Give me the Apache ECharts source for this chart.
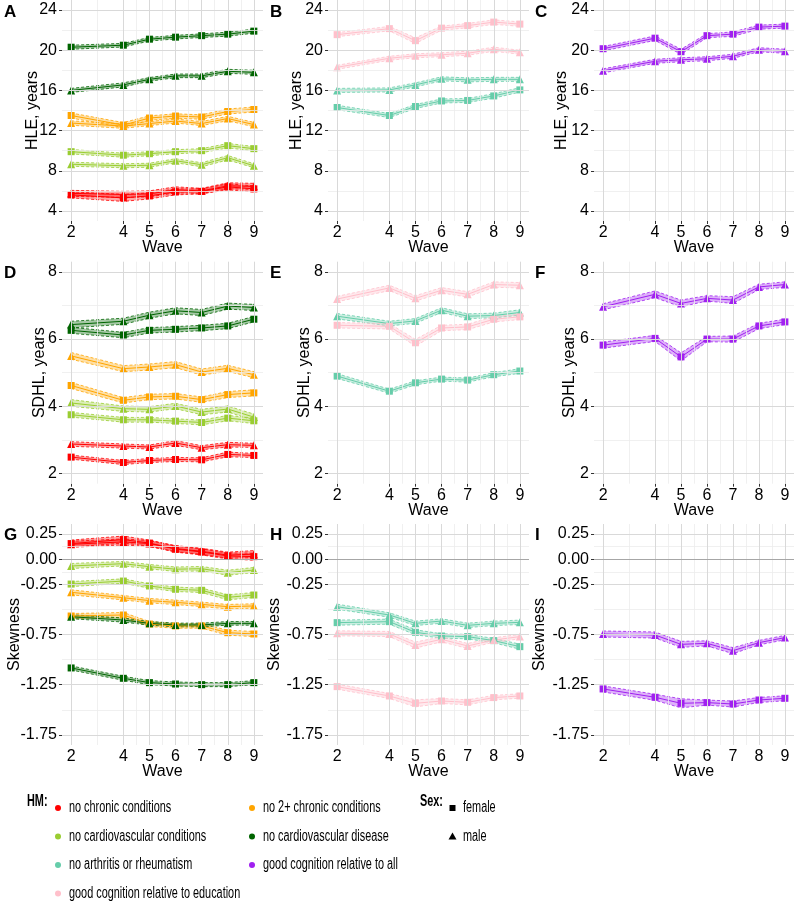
<!DOCTYPE html>
<html>
<head>
<meta charset="utf-8">
<script src="https://cdn.jsdelivr.net/npm/echarts@6/dist/echarts.min.js"></script>
<style>
  html, body { margin: 0; padding: 0; background: #fff; }
  #chart { width: 794px; height: 902px; }
</style>
</head>
<body>
<div id="chart"></div>
<script>
'use strict';

var waves = [2, 4, 5, 6, 7, 8, 9];

// ---- HLE, years (f = female / squares, m = male / triangles), ci = half width of band
var hle_nc_f = [5.6, 5.3, 5.5, 5.9, 5.95, 6.4, 6.2];
var hle_nc_m = [5.75, 5.65, 5.7, 6.1, 6.0, 6.5, 6.45];
var hle_n2_f = [13.5, 12.55, 13.25, 13.45, 13.35, 13.9, 14.1];
var hle_n2_m = [12.75, 12.45, 12.7, 12.95, 12.7, 13.2, 12.6];
var hle_ncv_f = [9.9, 9.55, 9.7, 9.9, 10.0, 10.5, 10.2];
var hle_ncv_m = [8.65, 8.5, 8.55, 9.0, 8.6, 9.3, 8.5];
var hle_ncd_f = [20.3, 20.5, 21.1, 21.3, 21.45, 21.6, 21.9];
var hle_ncd_m = [16.0, 16.55, 17.1, 17.45, 17.45, 17.9, 17.8];
var hle_nar_f = [14.3, 13.5, 14.4, 14.95, 15.0, 15.45, 16.05];
var hle_nar_m = [16.0, 16.05, 16.55, 17.15, 17.05, 17.1, 17.1];
var hle_gce_f = [21.55, 22.15, 20.95, 22.2, 22.45, 22.8, 22.6];
var hle_gce_m = [18.3, 19.2, 19.45, 19.55, 19.7, 20.1, 19.8];
var hle_gca_f = [20.15, 21.2, 19.85, 21.45, 21.6, 22.3, 22.4];
var hle_gca_m = [17.95, 18.9, 19.05, 19.15, 19.4, 20.05, 19.9];

var hle_nc_f_ci = [0.3, 0.35, 0.3, 0.3, 0.25, 0.3, 0.3];
var hle_nc_m_ci = [0.3, 0.3, 0.3, 0.3, 0.25, 0.3, 0.3];
var hle_n2_f_ci = [0.25, 0.25, 0.22, 0.22, 0.22, 0.25, 0.25];
var hle_n2_m_ci = [0.22, 0.22, 0.2, 0.2, 0.2, 0.22, 0.22];
var hle_ncv_f_ci = [0.22, 0.2, 0.2, 0.2, 0.2, 0.22, 0.22];
var hle_ncv_m_ci = [0.2, 0.2, 0.2, 0.2, 0.2, 0.22, 0.2];
var hle_ncd_f_ci = [0.2, 0.18, 0.18, 0.18, 0.18, 0.2, 0.2];
var hle_ncd_m_ci = [0.2, 0.2, 0.18, 0.18, 0.18, 0.2, 0.2];
var hle_nar_f_ci = [0.22, 0.2, 0.2, 0.2, 0.2, 0.22, 0.22];
var hle_nar_m_ci = [0.2, 0.2, 0.2, 0.2, 0.2, 0.2, 0.2];
var hle_gce_f_ci = [0.2, 0.22, 0.28, 0.2, 0.22, 0.22, 0.22];
var hle_gce_m_ci = [0.2, 0.2, 0.2, 0.2, 0.2, 0.2, 0.2];
var hle_gca_f_ci = [0.22, 0.22, 0.25, 0.2, 0.22, 0.2, 0.2];
var hle_gca_m_ci = [0.2, 0.2, 0.2, 0.2, 0.2, 0.2, 0.2];

// ---- SDHL, years
var sdhl_nc_f = [2.49, 2.33, 2.39, 2.42, 2.41, 2.57, 2.54];
var sdhl_nc_m = [2.88, 2.82, 2.79, 2.91, 2.77, 2.86, 2.84];
var sdhl_n2_f = [4.62, 4.18, 4.28, 4.3, 4.2, 4.35, 4.4];
var sdhl_n2_m = [5.5, 5.12, 5.17, 5.24, 5.02, 5.13, 4.94];
var sdhl_ncv_f = [3.75, 3.6, 3.6, 3.56, 3.52, 3.65, 3.57];
var sdhl_ncv_m = [4.1, 3.93, 3.91, 4.01, 3.83, 3.92, 3.68];
var sdhl_ncd_f = [6.26, 6.12, 6.26, 6.29, 6.33, 6.39, 6.59];
var sdhl_ncd_m = [6.43, 6.53, 6.71, 6.84, 6.79, 6.98, 6.94];
var sdhl_nar_f = [4.9, 4.45, 4.7, 4.81, 4.78, 4.94, 5.05];
var sdhl_nar_m = [6.68, 6.46, 6.54, 6.86, 6.68, 6.7, 6.79];
var sdhl_gce_f = [6.41, 6.38, 5.89, 6.33, 6.36, 6.59, 6.66];
var sdhl_gce_m = [7.19, 7.52, 7.21, 7.45, 7.33, 7.62, 7.6];
var sdhl_gca_f = [5.82, 6.02, 5.47, 6.0, 6.0, 6.39, 6.51];
var sdhl_gca_m = [6.96, 7.33, 7.06, 7.21, 7.16, 7.55, 7.62];

var sdhl_nc_f_ci = [0.06, 0.06, 0.06, 0.06, 0.06, 0.07, 0.06];
var sdhl_nc_m_ci = [0.07, 0.06, 0.06, 0.07, 0.06, 0.07, 0.06];
var sdhl_n2_f_ci = [0.09, 0.08, 0.08, 0.08, 0.08, 0.09, 0.09];
var sdhl_n2_m_ci = [0.1, 0.09, 0.09, 0.09, 0.09, 0.09, 0.09];
var sdhl_ncv_f_ci = [0.07, 0.07, 0.07, 0.07, 0.07, 0.08, 0.08];
var sdhl_ncv_m_ci = [0.1, 0.08, 0.08, 0.08, 0.08, 0.09, 0.09];
var sdhl_ncd_f_ci = [0.09, 0.08, 0.08, 0.08, 0.08, 0.08, 0.08];
var sdhl_ncd_m_ci = [0.1, 0.09, 0.09, 0.09, 0.09, 0.09, 0.09];
var sdhl_nar_f_ci = [0.07, 0.06, 0.06, 0.06, 0.06, 0.06, 0.07];
var sdhl_nar_m_ci = [0.08, 0.07, 0.07, 0.07, 0.07, 0.07, 0.08];
var sdhl_gce_f_ci = [0.08, 0.08, 0.1, 0.08, 0.08, 0.08, 0.08];
var sdhl_gce_m_ci = [0.08, 0.08, 0.08, 0.08, 0.08, 0.08, 0.08];
var sdhl_gca_f_ci = [0.09, 0.09, 0.12, 0.08, 0.09, 0.08, 0.08];
var sdhl_gca_m_ci = [0.09, 0.1, 0.1, 0.08, 0.1, 0.08, 0.08];

// ---- Skewness
var sk_nc_f = [0.155, 0.195, 0.16, 0.1, 0.072, 0.032, 0.025];
var sk_nc_m = [0.148, 0.172, 0.155, 0.105, 0.078, 0.04, 0.05];
var sk_n2_f = [-0.566, -0.556, -0.646, -0.665, -0.665, -0.732, -0.745];
var sk_n2_m = [-0.33, -0.384, -0.413, -0.43, -0.45, -0.473, -0.466];
var sk_ncv_f = [-0.248, -0.218, -0.267, -0.3, -0.31, -0.38, -0.357];
var sk_ncv_m = [-0.068, -0.045, -0.075, -0.1, -0.095, -0.135, -0.108];
var sk_ncd_f = [-1.083, -1.186, -1.229, -1.243, -1.249, -1.249, -1.229];
var sk_ncd_m = [-0.573, -0.606, -0.639, -0.655, -0.655, -0.639, -0.639];
var sk_nar_f = [-0.632, -0.622, -0.728, -0.765, -0.771, -0.811, -0.871];
var sk_nar_m = [-0.473, -0.556, -0.639, -0.616, -0.659, -0.639, -0.629];
var sk_gce_f = [-1.269, -1.362, -1.435, -1.412, -1.425, -1.378, -1.362];
var sk_gce_m = [-0.738, -0.745, -0.855, -0.798, -0.864, -0.805, -0.771];
var sk_gca_f = [-1.292, -1.375, -1.435, -1.428, -1.442, -1.402, -1.385];
var sk_gca_m = [-0.745, -0.755, -0.848, -0.838, -0.911, -0.831, -0.781];

var sk_nc_f_ci = [0.035, 0.035, 0.03, 0.03, 0.03, 0.03, 0.035];
var sk_nc_m_ci = [0.03, 0.03, 0.03, 0.03, 0.03, 0.03, 0.035];
var sk_n2_f_ci = [0.025, 0.025, 0.025, 0.022, 0.022, 0.025, 0.025];
var sk_n2_m_ci = [0.025, 0.022, 0.022, 0.022, 0.022, 0.022, 0.022];
var sk_ncv_f_ci = [0.025, 0.022, 0.022, 0.022, 0.022, 0.025, 0.025];
var sk_ncv_m_ci = [0.025, 0.022, 0.022, 0.022, 0.022, 0.025, 0.025];
var sk_ncd_f_ci = [0.02, 0.02, 0.02, 0.02, 0.02, 0.02, 0.02];
var sk_ncd_m_ci = [0.02, 0.02, 0.018, 0.018, 0.018, 0.018, 0.018];
var sk_nar_f_ci = [0.025, 0.025, 0.025, 0.022, 0.022, 0.022, 0.025];
var sk_nar_m_ci = [0.025, 0.022, 0.022, 0.022, 0.022, 0.022, 0.022];
var sk_gce_f_ci = [0.025, 0.025, 0.035, 0.025, 0.025, 0.022, 0.022];
var sk_gce_m_ci = [0.025, 0.025, 0.03, 0.025, 0.025, 0.022, 0.022];
var sk_gca_f_ci = [0.03, 0.03, 0.045, 0.025, 0.03, 0.025, 0.025];
var sk_gca_m_ci = [0.03, 0.03, 0.03, 0.025, 0.03, 0.022, 0.022];

// ---- groups / legend
var hmKeys = ['nc', 'n2', 'ncv', 'ncd', 'nar', 'gca', 'gce'];
var hmNames = ['no chronic conditions', 'no 2+ chronic conditions', 'no cardiovascular conditions',
  'no cardiovascular disease', 'no arthritis or rheumatism', 'good cognition relative to all',
  'good cognition relative to education'];
var hmColors = ['#ff0000', '#ffa500', '#9acd32', '#006400', '#66cdaa', '#a020f0', '#ffc0cb'];

// ---- axes
var xMajor = [2, 4, 5, 6, 7, 8, 9];
var xMinor = [3, 4.5, 5.5, 6.5, 7.5, 8.5];
var hleMajor = [4, 8, 12, 16, 20, 24];
var hleMinor = [6, 10, 14, 18, 22];
var sdhlMajor = [2, 4, 6, 8];
var sdhlMinor = [3, 5, 7];
var skMajor = [-1.75, -1.25, -0.75, -0.25, 0, 0.25];
var skMinor = [-1.5, -1, -0.5, -0.125, 0.125];

var measures = {
  hle: { name: 'HLE, years', min: 3, max: 25, major: hleMajor, minor: hleMinor, digits: 0,
    data: {
      nc: [hle_nc_f, hle_nc_m, hle_nc_f_ci, hle_nc_m_ci], n2: [hle_n2_f, hle_n2_m, hle_n2_f_ci, hle_n2_m_ci],
      ncv: [hle_ncv_f, hle_ncv_m, hle_ncv_f_ci, hle_ncv_m_ci], ncd: [hle_ncd_f, hle_ncd_m, hle_ncd_f_ci, hle_ncd_m_ci],
      nar: [hle_nar_f, hle_nar_m, hle_nar_f_ci, hle_nar_m_ci], gce: [hle_gce_f, hle_gce_m, hle_gce_f_ci, hle_gce_m_ci],
      gca: [hle_gca_f, hle_gca_m, hle_gca_f_ci, hle_gca_m_ci] } },
  sdhl: { name: 'SDHL, years', min: 1.7, max: 8.3, major: sdhlMajor, minor: sdhlMinor, digits: 0,
    data: {
      nc: [sdhl_nc_f, sdhl_nc_m, sdhl_nc_f_ci, sdhl_nc_m_ci], n2: [sdhl_n2_f, sdhl_n2_m, sdhl_n2_f_ci, sdhl_n2_m_ci],
      ncv: [sdhl_ncv_f, sdhl_ncv_m, sdhl_ncv_f_ci, sdhl_ncv_m_ci], ncd: [sdhl_ncd_f, sdhl_ncd_m, sdhl_ncd_f_ci, sdhl_ncd_m_ci],
      nar: [sdhl_nar_f, sdhl_nar_m, sdhl_nar_f_ci, sdhl_nar_m_ci], gce: [sdhl_gce_f, sdhl_gce_m, sdhl_gce_f_ci, sdhl_gce_m_ci],
      gca: [sdhl_gca_f, sdhl_gca_m, sdhl_gca_f_ci, sdhl_gca_m_ci] } },
  sk: { name: 'Skewness', min: -1.85, max: 0.35, major: skMajor, minor: skMinor, digits: 2, zero: true,
    data: {
      nc: [sk_nc_f, sk_nc_m, sk_nc_f_ci, sk_nc_m_ci], n2: [sk_n2_f, sk_n2_m, sk_n2_f_ci, sk_n2_m_ci],
      ncv: [sk_ncv_f, sk_ncv_m, sk_ncv_f_ci, sk_ncv_m_ci], ncd: [sk_ncd_f, sk_ncd_m, sk_ncd_f_ci, sk_ncd_m_ci],
      nar: [sk_nar_f, sk_nar_m, sk_nar_f_ci, sk_nar_m_ci], gce: [sk_gce_f, sk_gce_m, sk_gce_f_ci, sk_gce_m_ci],
      gca: [sk_gca_f, sk_gca_m, sk_gca_f_ci, sk_gca_m_ci] } }
};

var rowMeasures = ['hle', 'sdhl', 'sk'];
var colGroups = [['nc', 'n2', 'ncv', 'ncd'], ['nar', 'gce'], ['gca']];
var tags = ['A', 'B', 'C', 'D', 'E', 'F', 'G', 'H', 'I'];

var gridLefts = [62, 328, 594];
var gridTops = [0, 261.7, 524];
var gridHeights = [221, 222, 221];
var nameGaps = [[21, 23, 24], [14, 15, 16], [39, 45, 46]];

var FONT = "'Liberation Sans', Arial, sans-serif";

var grids = [], xAxes = [], yAxes = [], series = [], graphics = [];

function pts(vals) {
  return waves.map(function (w, i) { return [w, vals[i]]; });
}

// ribbon: polygon between lo and hi plus dashed edges, all via api.coord
function renderBand(params, api) {
  if (params.dataIndex !== 0) return null;
  var n = params.dataInsideLength;
  var upper = [], lower = [];
  for (var i = 0; i < n; i++) {
    upper.push(api.coord([api.value(0, i), api.value(2, i)]));
    lower.push(api.coord([api.value(0, i), api.value(1, i)]));
  }
  var color = api.visual('color');
  var edge = { stroke: color, lineWidth: 0.8, lineDash: [3, 2], fill: null };
  return {
    type: 'group',
    children: [
      { type: 'polygon', shape: { points: upper.concat(lower.slice().reverse()) }, style: { fill: color, opacity: 0.35 } },
      { type: 'polyline', shape: { points: upper }, style: edge },
      { type: 'polyline', shape: { points: lower }, style: edge }
    ]
  };
}

for (var r = 0; r < 3; r++) {
  var m = measures[rowMeasures[r]];
  for (var c = 0; c < 3; c++) {
    var idx = r * 3 + c;
    grids.push({ left: gridLefts[c], top: gridTops[r], width: 201, height: gridHeights[r], containLabel: false });
    xAxes.push({
      type: 'value', gridIndex: idx, min: 1.65, max: 9.35,
      name: 'Wave', nameLocation: 'middle', nameGap: 19, nameMoveOverlap: false,
      nameTextStyle: { fontFamily: FONT, fontSize: 16, color: '#000' },
      axisLine: { show: false },
      axisTick: { show: true, length: 3, customValues: xMajor, lineStyle: { color: '#333', width: 1 } },
      axisLabel: { customValues: xMajor, fontFamily: FONT, fontSize: 16, color: '#000', margin: 4 },
      splitLine: { show: false }
    });
    (function (mm) {
      yAxes.push({
        type: 'value', gridIndex: idx, min: mm.min, max: mm.max,
        name: mm.name, nameLocation: 'middle', nameGap: nameGaps[r][c], nameMoveOverlap: false,
        nameTextStyle: { fontFamily: FONT, fontSize: 16, color: '#000' },
        axisLine: { show: false },
        axisTick: { show: true, length: 3, customValues: mm.major, lineStyle: { color: '#333', width: 1 } },
        axisLabel: {
          customValues: mm.major, fontFamily: FONT, fontSize: 16, color: '#000', margin: 5,
          formatter: function (v) { return Number(v).toFixed(mm.digits); }
        },
        splitLine: { show: false }
      });
    })(m);

    // grid lines
    var lines = [];
    m.minor.forEach(function (v) { lines.push({ yAxis: v, lineStyle: { color: '#ececec', width: 0.8, type: 'solid' } }); });
    xMinor.forEach(function (v) { lines.push({ xAxis: v, lineStyle: { color: '#ececec', width: 0.8, type: 'solid' } }); });
    m.major.forEach(function (v) { lines.push({ yAxis: v, lineStyle: { color: '#d9d9d9', width: 1, type: 'solid' } }); });
    xMajor.forEach(function (v) { lines.push({ xAxis: v, lineStyle: { color: '#d9d9d9', width: 1, type: 'solid' } }); });
    if (m.zero) lines.push({ yAxis: 0, lineStyle: { color: '#a6a6a6', width: 1, type: 'solid' } });
    series.push({
      type: 'line', xAxisIndex: idx, yAxisIndex: idx, data: [], silent: true, z: 0,
      markLine: { symbol: 'none', silent: true, animation: false, label: { show: false }, data: lines }
    });

    colGroups[c].forEach(function (key) {
      var gi = hmKeys.indexOf(key);
      var color = hmColors[gi];
      var d = m.data[key];
      [0, 1].forEach(function (s) {
        var vals = d[s], ci = d[s + 2];
        series.push({
          type: 'custom', name: hmNames[gi], xAxisIndex: idx, yAxisIndex: idx, z: 2, silent: true,
          itemStyle: { color: color },
          encode: { x: 0, y: [1, 2] },
          data: waves.map(function (w, i) { return [w, vals[i] - ci[i], vals[i] + ci[i]]; }),
          renderItem: renderBand
        });
        series.push({
          type: 'line', name: hmNames[gi], xAxisIndex: idx, yAxisIndex: idx, z: 3,
          symbol: s === 0 ? 'rect' : 'triangle', symbolSize: s === 0 ? 7 : 8,
          lineStyle: { color: color, width: 1 }, itemStyle: { color: color },
          data: pts(vals)
        });
      });
    });

    graphics.push({
      type: 'text', left: [4, 270, 535][c], top: gridTops[r] + (r === 0 ? 4 : 3),
      style: { text: tags[idx], font: 'bold 17px ' + FONT, fill: '#000' }
    });
  }
}

// ---- legend (HM colours, Sex shapes); text squeezed horizontally like the source
var legRows = [808, 836.5, 865, 893.5];
var legCols = [58, 252];
var SQ = 0.68;
function legText(txt, x, y, bold) {
  return { type: 'text', x: x, y: y, scaleX: SQ,
    style: { text: txt, font: (bold ? 'bold ' : '') + '16px ' + FONT, fill: '#000', verticalAlign: 'middle' } };
}
graphics.push(legText('HM:', 27, 802, true));
hmNames.forEach(function (nm, i) {
  var row = Math.floor(i / 2), col = i % 2;
  if (i === 6) { row = 3; col = 0; }
  var y = legRows[row], x = legCols[col];
  graphics.push({ type: 'circle', shape: { cx: x, cy: y, r: 3 }, style: { fill: hmColors[i] } });
  graphics.push(legText(nm, x + 11, y, false));
});
graphics.push(legText('Sex:', 420, 802, true));
graphics.push({ type: 'rect', shape: { x: 449.5, y: legRows[0] - 3, width: 6, height: 6 }, style: { fill: '#000' } });
graphics.push(legText('female', 463, legRows[0], false));
graphics.push({ type: 'polygon', shape: { points: [[452.5, legRows[1] - 4], [456.5, legRows[1] + 3], [448.5, legRows[1] + 3]] }, style: { fill: '#000' } });
graphics.push(legText('male', 463, legRows[1], false));

var chart = echarts.init(document.getElementById('chart'), null, { renderer: 'canvas' });
chart.setOption({
  animation: false,
  backgroundColor: '#fff',
  grid: grids,
  xAxis: xAxes,
  yAxis: yAxes,
  series: series,
  graphic: graphics
});
</script>
</body>
</html>
